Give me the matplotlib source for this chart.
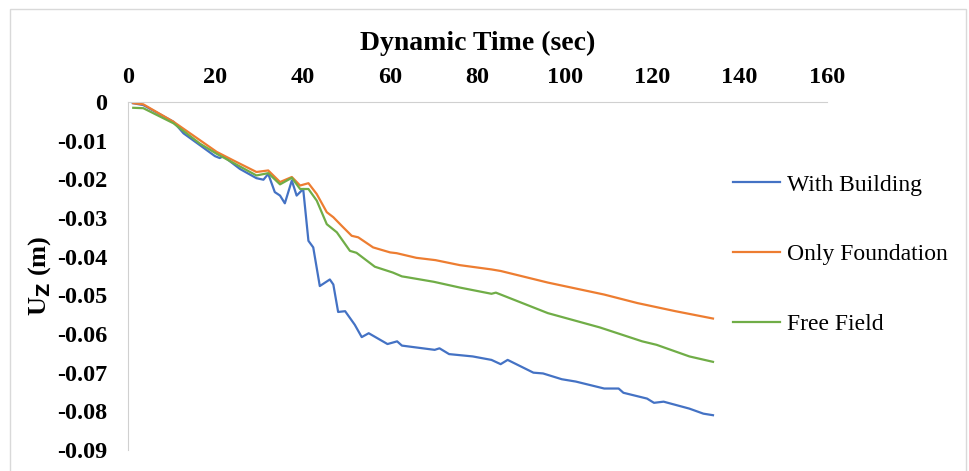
import matplotlib.pyplot as plt
from matplotlib.patches import Rectangle

# time (sec) and vertical displacement Uz (m)
t_bld = [1.1, 3.5, 10.4, 12.7, 16.5, 19.9, 21.0, 21.8, 25.6, 29.4, 31.0, 32.1, 33.6, 34.8,
         35.9, 37.5, 38.6, 39.4, 40.1, 41.3, 42.4, 43.9, 46.2, 47.0, 48.1, 49.7, 51.9,
         53.5, 55.1, 59.4, 61.6, 62.7, 70.2, 71.3, 73.5, 78.9, 83.2, 85.3, 86.9, 92.8,
         95.0, 99.3, 102.5, 109.0, 112.3, 113.4, 118.8, 120.4, 122.6, 128.5, 131.7, 133.9]
uz_bld = [-0.0003, -0.0008, -0.0051, -0.0081, -0.0112, -0.0140, -0.0145, -0.0140, -0.0173,
          -0.0197, -0.0201, -0.0186, -0.0233, -0.0242, -0.0262, -0.0203, -0.0242, -0.0233,
          -0.0225, -0.0359, -0.0376, -0.0476, -0.0459, -0.0472, -0.0543, -0.0541, -0.0576,
          -0.0608, -0.0598, -0.0626, -0.0619, -0.0630, -0.0641, -0.0637, -0.0652, -0.0658,
          -0.0667, -0.0678, -0.0667, -0.0700, -0.0702, -0.0717, -0.0723, -0.0741, -0.0741,
          -0.0752, -0.0767, -0.0778, -0.0775, -0.0793, -0.0806, -0.0810]

t_fnd = [1.2, 3.5, 10.4, 16.5, 20.3, 24.1, 29.4, 32.1, 34.8, 37.5, 39.4, 41.3, 43.2, 45.5,
         47.0, 48.9, 51.2, 52.7, 56.1, 60.0, 61.5, 66.0, 70.4, 76.0, 83.2, 85.3, 96.1,
         109.0, 116.6, 125.3, 133.9]
uz_fnd = [-0.0003, -0.0006, -0.0051, -0.0099, -0.0129, -0.0151, -0.0181, -0.0177, -0.0207,
          -0.0194, -0.0216, -0.0210, -0.0238, -0.0285, -0.0298, -0.0320, -0.0346, -0.0350,
          -0.0376, -0.0389, -0.0391, -0.0403, -0.0409, -0.0422, -0.0433, -0.0437, -0.0467,
          -0.0498, -0.0520, -0.0541, -0.0560]

t_ff = [1.2, 3.5, 10.4, 16.5, 20.3, 29.4, 32.1, 34.8, 37.5, 39.4, 41.3, 43.2, 45.5, 47.8,
        50.8, 52.3, 56.5, 60.6, 62.7, 63.8, 70.0, 76.0, 83.2, 84.2, 96.1, 108.0, 117.7,
        121.0, 128.5, 133.9]
uz_ff = [-0.0015, -0.0016, -0.0055, -0.0108, -0.0134, -0.0190, -0.0184, -0.0213, -0.0196,
         -0.0225, -0.0225, -0.0255, -0.0316, -0.0337, -0.0385, -0.0390, -0.0426, -0.0441,
         -0.0451, -0.0453, -0.0465, -0.0480, -0.0496, -0.0493, -0.0546, -0.0583, -0.0619,
         -0.0628, -0.0658, -0.0672]

series = [('With Building', t_bld, uz_bld, '#4472C4'),
          ('Only Foundation', t_fnd, uz_fnd, '#ED7D31'),
          ('Free Field', t_ff, uz_ff, '#70AD47')]

x_ticks = [0, 20, 40, 60, 80, 100, 120, 140, 160]
y_ticks = [0, -0.01, -0.02, -0.03, -0.04, -0.05, -0.06, -0.07, -0.08, -0.09]

plt.rcParams['font.family'] = ['Liberation Serif', 'DejaVu Serif']

fig = plt.figure(figsize=(9.7, 4.71), dpi=100)
fig.patches.append(Rectangle((10 / 970, -0.01), 956 / 970, 1 - 9 / 471 + 0.01,
                             transform=fig.transFigure, fill=False,
                             edgecolor='#d9d9d9', linewidth=1))
ax = fig.add_axes([128 / 970, 1 - 450 / 471, (827 - 128) / 970, (450 - 102) / 471])

for name, t, uz, c in series:
    ax.plot(t, uz, color=c, linewidth=1.6, label=name)

ax.set_xlim(0, 160)
ax.set_ylim(-0.09, 0)
ax.set_xticks(x_ticks)
ax.set_yticks(y_ticks)
ax.set_yticklabels(['0' if v == 0 else f'{v:.2f}' for v in y_ticks])
ax.xaxis.tick_top()
ax.xaxis.set_label_position('top')
ax.tick_params(axis='x', length=0, labelsize=17.5, pad=10)
ax.tick_params(axis='y', length=0, labelsize=17.5, pad=15)
for lab in ax.get_xticklabels() + ax.get_yticklabels():
    lab.set_fontweight('bold')
ax.spines['right'].set_visible(False)
ax.spines['bottom'].set_visible(False)
ax.spines['left'].set_color('#d0d0d0')
ax.spines['top'].set_color('#d0d0d0')

ax.set_xlabel('Dynamic Time (sec)', fontsize=20, fontweight='bold', labelpad=12)
ax.set_ylabel(r'U$_{\mathbf{Z}}$ (m)', fontsize=19, fontweight='bold', labelpad=3)

ax.legend(loc='upper left', bbox_to_anchor=(733 / 970, 1 - 174 / 471),
          bbox_transform=fig.transFigure, frameon=False, fontsize=17,
          borderpad=0, borderaxespad=0, handlelength=2.0, labelspacing=2.05,
          handletextpad=0.3)

fig.savefig('out.png', dpi=100)
